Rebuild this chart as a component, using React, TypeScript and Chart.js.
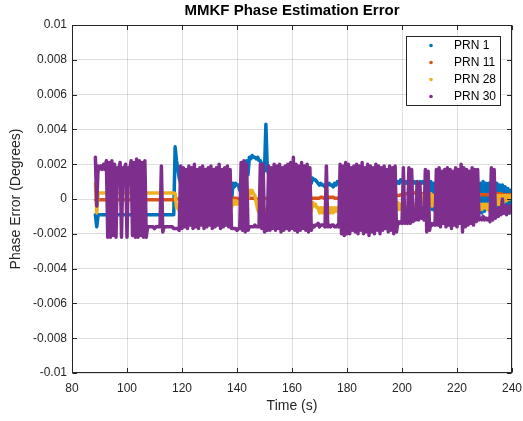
import React, { useEffect, useRef } from "react";
import { Chart, registerables } from "chart.js";

Chart.register(...registerables);

// ---- Data (values in units of 1e-4 degrees), one sample pair (high, low) per second ----
const UNIT = 1e-4;
const T0 = 88.5; // first sample time (s)
const DT = 1; // sample spacing (s)

const seriesNames = ["PRN 1", "PRN 11", "PRN 28", "PRN 30"];
const seriesColors = ["#0072BD", "#D95319", "#EDB120", "#7E2F8E"];

const xTickLabels = ["80", "100", "120", "140", "160", "180", "200", "220", "240"];
const yTickLabels = ["-0.01", "-0.008", "-0.006", "-0.004", "-0.002", "0", "0.002", "0.004", "0.006", "0.008", "0.01"];

const prn1Hi = [
  -9, -9, -9, -9, -9, -9, -9, -9, -9, -9,
  -9, -9, -9, -9, -9, -9, -9, -9, -9, -9,
  -9, -9, -9, -9, -9, -9, -9, -9, -9, 30,
  17, 9, 7, -4, -3, -4, -4, -3, -4, -4,
  -3, -4, -4, -3, -4, -4, -3, -4, -4, 5,
  9, 9, 8, 10, 12, 22, 24, 25, 24, 24,
  22, 19, 43, 14, 11, 10, 10, 10, 10, 10,
  10, 10, 10, 10, 10, 10, 10, 10, 10, 12,
  11, 9, 9, 8, 9, 9, 8, 9, 10, 10,
  10, 10, 10, 9, 10, 10, 9, 10, 10, 9,
  9, 10, 10, 9, 9, 9, 9, 9, 9, 10,
  10, 11, 10, 10, 11, 10, 10, 9, 10, 10,
  9, 10, 10, 9, 9, 10, 9, 9, 10, 9,
  9, 10, 9, 9, 10, 9, 9, 10, 10, 9,
  9, 10, 9, 9, 10, 9, 9, 8, 8, 7,
  6, 5,
];
const prn1Lo = [
  -16, -9, -9, -9, -9, -9, -9, -9, -9, -9,
  -9, -9, -9, -9, -9, -9, -9, -9, -9, -9,
  -9, -9, -9, -9, -9, -9, -9, -9, -9, 22,
  12, 5, -2, -5, -5, -6, -5, -5, -6, -5,
  -5, -6, -5, -5, -6, -5, -5, -6, -5, -3,
  7, 8, 5, 8, 10, 14, 23, 24, 23, 22,
  20, 16, 18, 12, 9, 9, 9, 9, 9, 9,
  9, 9, 9, 9, 9, 9, 9, 9, 9, 11,
  10, 8, 8, 7, 8, 8, 7, 8, 9, 9,
  9, 9, 9, 8, 9, 9, 8, 9, 9, 8,
  8, 9, 9, 8, 8, -6, -7, -6, -5, 9,
  9, 10, 9, 9, 10, 9, 9, 8, 9, 9,
  8, 9, -6, -7, -8, -7, -6, -7, -8, -7,
  -6, -7, -8, -7, -6, -8, -7, -6, -8, -7,
  -8, -7, -6, -7, -8, -7, -6, -7, -8, -6,
  -8, -7,
];

const prn11 = [
  -0.5, -0.5, -0.5, -0.5, -0.5, -0.5, -0.5, -0.5, -0.5, -0.5,
  -0.5, -0.5, -0.5, -0.5, -0.5, -0.5, -0.5, -0.5, -0.5, -0.5,
  -0.5, -0.5, -0.5, -0.5, -0.5, -0.5, -0.5, -0.5, -0.5, 0,
  0, 0, 0, 0, 0, 0, 0, 0, 0, 0,
  0, 0, 0, 0, 0, 0, 0, 0, 0, 0,
  0.5, 0.5, 0, 0, 0, 0.5, 0.5, 0.5, 0, 0,
  0, 0, 0.5, 0.5, 0.5, 0.5, 0.5, 0.5, 0.5, 0.5,
  0.5, 0.5, 0.5, 0.5, 0.5, 0.5, 0.5, 0.5, 0.5, 0.5,
  0.5, 0.5, 1, 0.5, 0.5, 1, 1, 0.5, 0.5, 1,
  1, 1, 0.5, 1, 1, 1, 1, 1.5, 1.5, 1.5,
  1.5, 2, 2, 2, 1.5, 2, 2, 2, 2, 2,
  2, 2.5, 3, 3, 3.5, 4, 3.5, 3, 3, 3,
  3, 2.5, 2.5, 2, 2, 2, 2, 2, 2, 2,
  2, 2, 2, 2, 2, 2, 2, 2, 2, 2.5,
  2.5, 2.5, 2.5, 2.5, 3, 3, 3, 3, 2.5, 2.5,
  2.5, 2.5,
];

const prn28Hi = [
  9, 3.5, 3.5, 3.5, 3.5, 3.5, 3.5, 3.5, 3.5, 3.5,
  3.5, 3.5, 3.5, 3.5, 3.5, 3.5, 3.5, 3.5, 3.5, 3.5,
  3.5, 3.5, 3.5, 3.5, 3.5, 3.5, 3.5, 3.5, 3.5, 3,
  -5, -6, -4, -6, -3, -5, -3, -4, -3, -4,
  -3, -4, -3, -2, -3, -4, -3, -3, -2, -2,
  -1, -1, -2, -1, 0, 3, 5, 5, 2, -6,
  -6, -6, -6, -5, -5, -5, -5, -5, -5, -5,
  -5, -5, -5, -5, -5, -5, -5, -5, -5, -2,
  -3, -5, -5, -5, -5, -5, -5, -5, -5, -6,
  -6, -6, -6, -6, -5, -5, -5, -5, -5, -5,
  -2, -3, -2, -3, -2, -2, -3, -2, -2, -3,
  -2, -3, -5, -5, -4, -3, -3, -2, 0, 2,
  3, 3, 3, 2, 3, 3, 2, 3, 0, 0,
  0, -1, 0, 0, -1, 0, 0, 0, 0, -3,
  -3, -3, -3, -3, -3, 2, 2, 2, 2, 2,
  2, 2,
];
const prn28Lo = [
  -8, 3.5, 3.5, 3.5, 3.5, 3.5, 3.5, 3.5, 3.5, 3.5,
  3.5, 3.5, 3.5, 3.5, 3.5, 3.5, 3.5, 3.5, 3.5, 3.5,
  3.5, 3.5, 3.5, 3.5, 3.5, 3.5, 3.5, 3.5, 3.5, -5,
  -7, -8, -7, -8, -6, -7, -6, -6, -6, -6,
  -6, -6, -5, -6, -6, -6, -5, -6, -5, -5,
  -3, -3, -3, -3, -2, 0, 3, 3, -2, -8,
  -8, -8, -8, -7, -7, -7, -7, -7, -7, -7,
  -7, -7, -7, -7, -7, -7, -7, -7, -7, -4,
  -5, -8, -8, -8, -7, -8, -8, -7, -8, -7,
  -7, -7, -7, -7, -6, -6, -6, -6, -6, -6,
  -6, -6, -5, -6, -6, -5, -6, -6, -5, -6,
  -6, -6, -7, -6, -6, -5, -4, -3, -2, 0,
  -2, -4, -4, -3, -4, -4, -3, -4, -3, -3,
  -3, -3, -2, -3, -3, -2, -3, -3, -3, -6,
  -6, -5, -6, -6, -6, -4, -3, -4, -2, -1,
  0, 0,
];

const prn30Hi = [
  24, 19, 19, 20, 22, 21, 22, 20, 18, 21,
  18, 20, 18, 22, 21, 23, 22, 21, 22, -16,
  -16, -16, -16, -16, 19, -16, -16, -16, -16, -17,
  -17, 19, 18, 17, 19, 18, 20, 17, 18, 19,
  17, 18, 19, 17, 18, 20, 17, 18, 19, 17,
  -17, -17, -17, 21, 22, 20, -16, -16, -15, -16,
  20, 20, -17, 19, 18, 20, 19, 20, 18, 19,
  20, 21, 24, 20, 19, 21, 19, 20, 18, -15,
  -15, -14, -15, -15, 19, -15, -15, -16, -15, 20,
  19, 21, 20, 18, 19, 20, 19, 21, 18, 20,
  19, 18, 20, 19, 18, 19, 17, 19, 18, 19,
  -13, -13, 18, -13, 18, 17, -11, 10, 9, -10,
  17, 16, -14, -14, 17, 18, 16, 17, 18, 17,
  16, 18, 17, 20, 18, 17, 16, 18, 17, 17,
  -11, -10, -11, -11, 18, 17, -6, -5, 0, -4,
  -4, -4,
];
const prn30Lo = [
  -4, 17, 17, 17, -22, -22, -21, -22, 17, -22,
  17, -22, 17, -21, -22, -22, -21, -22, -22, -16,
  -16, -17, -16, -16, -19, -16, -16, -16, -17, -17,
  -18, -17, -16, -17, -15, -17, -16, -17, -15, -17,
  -16, -15, -17, -16, -15, -17, -16, -15, -16, -17,
  -17, -18, -17, -18, -19, -18, -16, -16, -16, -16,
  -17, -19, -18, -18, -17, -18, -17, -19, -18, -17,
  -18, -17, -18, -19, -18, -17, -18, -19, -18, -16,
  -15, -16, -15, -16, -16, -16, -15, -16, -16, -20,
  -21, -20, -20, -18, -19, -20, -18, -20, -19, -21,
  -19, -20, -18, -20, -18, -17, -19, -18, -20, -19,
  -14, -14, -14, -14, -14, -13, -12, -12, -11, -12,
  -19, -18, -15, -15, -15, -16, -14, -16, -15, -17,
  -15, -16, -14, -19, -16, -15, -14, -15, -13, -12,
  -12, -12, -12, -13, -12, -11, -10, -9, -8, -9,
  -8, -7,
];

const seriesHi = [prn1Hi, prn11, prn28Hi, prn30Hi];
const seriesLo = [prn1Lo, prn11, prn28Lo, prn30Lo];

function buildPoints(hi: number[], lo: number[]) {
  const pts: { x: number; y: number }[] = [];
  for (let i = 0; i < hi.length; i++) {
    const t = T0 + i * DT;
    pts.push({ x: t, y: hi[i] * UNIT });
    const l = lo[i] !== undefined ? lo[i] : hi[i];
    pts.push({ x: t + DT / 2, y: l * UNIT });
  }
  return pts;
}

const FONT = "'Liberation Sans', Arial, Helvetica, sans-serif";
const AXIS_COLOR = "#262626";

const matlabPlugin = {
  id: "matlabDecor",
  afterDraw(chart: any) {
    const { ctx, chartArea: a, scales } = chart;
    ctx.save();
    // axes box
    ctx.strokeStyle = AXIS_COLOR;
    ctx.lineWidth = 1;
    const L = Math.round(a.left) + 0.5;
    const R = Math.round(a.right) - 0.5;
    const T = Math.round(a.top) + 0.5;
    const B = Math.round(a.bottom) - 0.5;
    ctx.strokeRect(L, T, R - L, B - T);
    // inward tick marks
    const tl = 4.5;
    ctx.beginPath();
    scales.x.ticks.forEach((tk: any) => {
      const px = Math.round(scales.x.getPixelForValue(tk.value)) + 0.5;
      ctx.moveTo(px, B);
      ctx.lineTo(px, B - tl);
      ctx.moveTo(px, T);
      ctx.lineTo(px, T + tl);
    });
    scales.y.ticks.forEach((tk: any) => {
      const py = Math.round(scales.y.getPixelForValue(tk.value)) + 0.5;
      ctx.moveTo(L, py);
      ctx.lineTo(L + tl, py);
      ctx.moveTo(R, py);
      ctx.lineTo(R - tl, py);
    });
    ctx.stroke();

    // legend box
    const lw = 94;
    const lh = 69;
    const lx = Math.round(a.right) - 12 - lw + 0.5;
    const ly = Math.round(a.top) + 11 + 0.5;
    ctx.fillStyle = "#ffffff";
    ctx.fillRect(lx, ly, lw, lh);
    ctx.strokeStyle = AXIS_COLOR;
    ctx.strokeRect(lx, ly, lw, lh);
    ctx.font = `12px ${FONT}`;
    ctx.textBaseline = "middle";
    ctx.textAlign = "left";
    chart.data.datasets.forEach((ds: any, i: number) => {
      const yy = ly + 9 + i * 17;
      ctx.fillStyle = ds.borderColor;
      ctx.beginPath();
      ctx.arc(lx + 24.5, yy, 1.8, 0, Math.PI * 2);
      ctx.fill();
      ctx.fillStyle = "#000000";
      ctx.fillText(ds.label, lx + 47.5, yy + 0.5);
    });
    ctx.restore();
  },
};

export default function App() {
  const canvasRef = useRef<HTMLCanvasElement | null>(null);

  useEffect(() => {
    if (!canvasRef.current) return;
    Chart.defaults.font.family = FONT;
    const datasets = seriesNames.map((name, i) => ({
      label: name,
      data: buildPoints(seriesHi[i], seriesLo[i]),
      borderColor: seriesColors[i],
      backgroundColor: seriesColors[i],
      showLine: true,
      borderWidth: 3.5,
      borderJoinStyle: "round" as const,
      borderCapStyle: "round" as const,
      pointRadius: 0,
      pointHoverRadius: 0,
      order: seriesNames.length - 1 - i,
    }));

    const chart = new Chart(canvasRef.current, {
      type: "scatter",
      data: { datasets },
      options: {
        animation: false,
        responsive: false,
        devicePixelRatio: 1,
        events: [],
        layout: { padding: { left: 0, right: 11, top: 0, bottom: 0 } },
        plugins: {
          legend: { display: false },
          tooltip: { enabled: false },
          title: {
            display: true,
            text: "MMKF Phase Estimation Error",
            color: "#000000",
            font: { size: 15, weight: "bold", family: FONT },
            padding: { top: 2, bottom: 5 },
            fullSize: false,
          },
        },
        scales: {
          x: {
            type: "linear",
            min: 80,
            max: 240,
            afterFit: (s: any) => {
              s.height = 48;
              s.paddingLeft = 0;
              s.paddingRight = 0;
            },
            ticks: {
              stepSize: 20,
              color: AXIS_COLOR,
              font: { size: 12, family: FONT },
              padding: 8,
              maxRotation: 0,
              callback: (_v: any, idx: number) => xTickLabels[idx],
            },
            grid: { color: "rgba(38,38,38,0.15)", drawTicks: false },
            border: { display: false },
            title: {
              display: true,
              text: "Time (s)",
              color: AXIS_COLOR,
              font: { size: 14, family: FONT },
              padding: { top: 0, bottom: 6 },
            },
          },
          y: {
            type: "linear",
            min: -0.01,
            max: 0.01,
            afterFit: (s: any) => {
              s.width = 72;
              s.paddingTop = 0;
              s.paddingBottom = 0;
            },
            ticks: {
              stepSize: 0.002,
              color: AXIS_COLOR,
              font: { size: 12, family: FONT },
              padding: 5,
              callback: (_v: any, idx: number) => yTickLabels[idx],
            },
            grid: { color: "rgba(38,38,38,0.15)", drawTicks: false },
            border: { display: false },
            title: {
              display: true,
              text: "Phase Error (Degrees)",
              color: AXIS_COLOR,
              font: { size: 14, family: FONT },
              padding: { top: 8, bottom: 0 },
            },
          },
        },
      },
      plugins: [matlabPlugin],
    });
    return () => chart.destroy();
  }, []);

  return (
    <div style={{ position: "fixed", left: 0, top: 0, width: 523, height: 421, background: "#ffffff" }}>
      <canvas ref={canvasRef} width={523} height={421} style={{ display: "block", width: 523, height: 421 }} />
    </div>
  );
}
